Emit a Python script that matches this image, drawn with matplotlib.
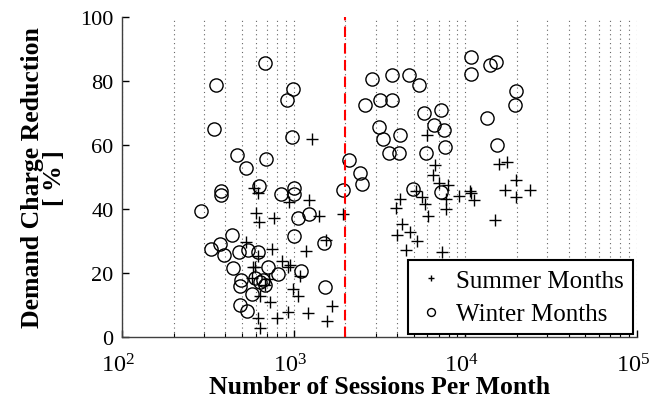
import matplotlib
matplotlib.use("Agg")
import matplotlib.pyplot as plt
import matplotlib.transforms as mtransforms
from matplotlib.ticker import LogLocator

plt.rcParams['font.family'] = ['Liberation Serif', 'DejaVu Serif']
plt.rcParams['mathtext.fontset'] = 'custom'
plt.rcParams['mathtext.rm'] = 'Liberation Serif'
plt.rcParams['mathtext.it'] = 'Liberation Serif:italic'
plt.rcParams['mathtext.bf'] = 'Liberation Serif:bold'

# Summer months (plus markers)
summer_x = [622, 587, 1228, 939, 600, 630, 771, 525, 745, 1173, 617, 851, 951,
            596, 929, 580, 1089, 718, 575, 681, 995, 1055, 637, 728, 929, 1213,
            617, 796, 637, 1400, 1930, 1545, 1663, 1575, 4140, 3924, 4253, 4000,
            4755, 5200, 4535, 7360, 5130, 5600, 5800, 6070, 6500, 7050, 7945,
            7670, 7770, 5995, 6650, 9200, 10640, 11300, 10860, 15740, 17530,
            19730, 17010, 19730, 23970, 14860, 1282]
summer_y = [45.0, 46.6, 42.8, 42.2, 38.8, 36.0, 37.0, 29.7, 27.4, 26.9, 25.3,
            23.8, 22.4, 21.7, 21.7, 21.7, 19.1, 18.1, 18.4, 16.2, 15.0, 12.7,
            12.7, 11.0, 7.7, 7.4, 5.8, 5.8, 2.8, 37.6, 38.3, 30.3, 9.8, 5.0,
            43.2, 40.4, 35.2, 31.9, 32.9, 30.0, 27.1, 26.4, 45.6, 43.7, 41.4,
            37.8, 50.5, 48.2, 47.4, 43.2, 39.9, 62.9, 53.7, 44.0, 45.6, 42.9,
            44.9, 53.9, 54.6, 49.0, 45.9, 43.8, 45.8, 36.5, 61.9]

# Winter months (open circles)
winter_x = [351, 681, 995, 918, 345, 977, 466, 690, 528, 378, 378, 630, 1008,
            1008, 849, 287, 438, 330, 372, 394, 480, 544, 441, 493, 487, 569,
            487, 532, 1228, 1055, 1000, 617, 711, 1103, 596, 665, 681, 640, 813,
            2109, 2433, 2489, 1928, 1502, 1520, 2870, 3748, 4708, 5383, 2610,
            3182, 3748, 3122, 3322, 4155, 3589, 4104, 5740, 7178, 6560, 7500,
            7600, 5895, 10740, 10740, 13900, 15060, 19730, 19540, 13290, 15380,
            4966, 7170]
winter_y = [78.6, 85.4, 77.3, 73.8, 64.8, 62.3, 56.7, 55.5, 52.7, 45.6, 44.3,
            47.1, 46.4, 44.5, 44.5, 39.2, 31.8, 27.4, 29.0, 25.6, 26.6, 27.1,
            21.4, 17.8, 16.0, 13.4, 10.0, 8.2, 38.4, 37.1, 31.4, 26.4, 21.7,
            20.5, 18.4, 17.9, 16.2, 17.2, 19.6, 55.1, 51.3, 47.7, 45.9, 29.2,
            15.5, 80.4, 81.8, 81.6, 78.6, 72.3, 73.9, 74.1, 65.4, 61.9, 62.9,
            57.5, 57.3, 70.0, 70.7, 66.0, 64.6, 59.3, 57.3, 87.4, 82.2, 85.0,
            85.8, 76.7, 72.4, 68.2, 59.8, 46.1, 45.1]

threshold_x = 2000
legend_labels = ['Summer Months', 'Winter Months']

fig = plt.figure(figsize=(6.52, 4.14), dpi=100)
ax = fig.add_axes([0.187, 0.1836, 0.79, 0.7741])

ax.set_xscale('log')
ax.set_xlim(1e2, 1e5)
ax.set_ylim(0, 100)

ax.xaxis.set_minor_locator(LogLocator(base=10, subs=range(2, 10)))
ax.grid(True, axis='x', which='both', linestyle=(0, (1, 3)), color='0.4', linewidth=0.8)
ax.set_axisbelow(True)

ax.plot(summer_x, summer_y, linestyle='none', marker='+', markersize=8,
        markeredgewidth=1.0, color='black', label=legend_labels[0], zorder=3)
ax.plot(winter_x, winter_y, linestyle='none', marker='o', markersize=9.5,
        markerfacecolor='none', markeredgewidth=1.0, markeredgecolor='black',
        label=legend_labels[1], zorder=3)

ax.plot([threshold_x, threshold_x], [0, 100], color='red', linestyle=(0, (5, 3)),
        linewidth=1.5, zorder=4)

ax.set_yticks([0, 20, 40, 60, 80, 100])
ax.tick_params(axis='both', which='major', direction='in', length=5, width=1)
ax.tick_params(axis='y', which='major', labelsize=16, pad=6)
ax.tick_params(axis='x', which='major', labelsize=17.5, pad=12)
ax.tick_params(axis='x', which='minor', direction='in', length=3, width=0.8)

# MATLAB-style: centre the "10" on the tick, exponent hangs to the right
offset = mtransforms.ScaledTranslation(-4 / 100, 0, fig.dpi_scale_trans)
for lbl in ax.get_xticklabels():
    lbl.set_transform(lbl.get_transform() + offset)

for s in ['top', 'right']:
    ax.spines[s].set_visible(False)
for s in ['left', 'bottom']:
    ax.spines[s].set_linewidth(1.0)
    ax.spines[s].set_color('0.25')

ax.set_xlabel('Number of Sessions Per Month', fontsize=18.5, fontweight='bold', labelpad=-1)
ax.set_ylabel('Demand Charge Reduction\n[ % ]', fontsize=18.5, fontweight='bold',
              linespacing=0.95, labelpad=10)

leg = ax.legend(loc='lower right', bbox_to_anchor=(0.992, 0.009), fontsize=18,
                frameon=True, fancybox=False, borderaxespad=0, markerscale=0.6,
                handlelength=1.2, handletextpad=0.4, borderpad=0.35, labelspacing=0.45)
leg.get_frame().set_edgecolor('black')
leg.get_frame().set_linewidth(1.5)
leg.get_frame().set_alpha(1)

fig.savefig('out.png', dpi=100)
